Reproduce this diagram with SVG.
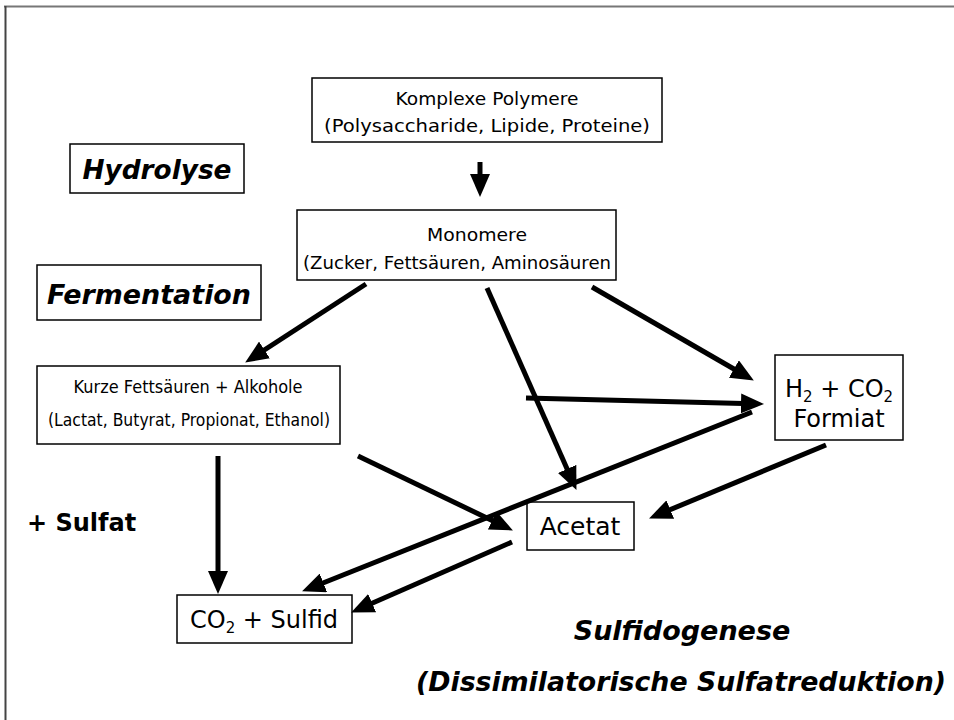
<svg xmlns="http://www.w3.org/2000/svg" width="954" height="720" viewBox="0 0 954 720">
<style>
.box{fill:#fff;stroke:#000;stroke-width:1.5}
.t{font-family:"DejaVu Sans","Liberation Sans",sans-serif;text-anchor:middle;fill:#000}
.b{font-family:"DejaVu Sans","Liberation Sans",sans-serif;font-weight:bold;font-style:italic;text-anchor:middle;fill:#000}
.c line{stroke:#000;stroke-width:5;marker-end:url(#ah)}
</style>
<defs>
<marker id="ah" markerUnits="userSpaceOnUse" markerWidth="23" markerHeight="20" refX="12" refY="10" orient="auto" viewBox="0 0 23 20">
<path d="M0,0 L23,10 L0,20 z" fill="#000"/>
</marker>
</defs>
<rect width="954" height="720" fill="#fff"/>
<line x1="4" y1="6.5" x2="954" y2="6.5" stroke="#777" stroke-width="2"/>
<line x1="5.5" y1="6" x2="5.5" y2="720" stroke="#444" stroke-width="2"/>

<g id="polymere"><rect class="box" x="312" y="78" width="350" height="64"/>
<text class="t" x="487" y="105" font-size="18" textLength="183" lengthAdjust="spacingAndGlyphs">Komplexe Polymere</text>
<text class="t" x="487" y="132" font-size="18" textLength="326" lengthAdjust="spacingAndGlyphs">(Polysaccharide, Lipide, Proteine)</text></g>

<g id="hydrolyse"><rect class="box" x="70" y="144" width="174" height="49"/>
<text class="b" x="157" y="179" font-size="26" textLength="149" lengthAdjust="spacingAndGlyphs">Hydrolyse</text></g>

<g id="monomere"><rect class="box" x="297" y="210" width="319" height="70"/>
<text class="t" x="477" y="241" font-size="18" textLength="100" lengthAdjust="spacingAndGlyphs">Monomere</text>
<text class="t" x="457" y="269" font-size="18" textLength="308" lengthAdjust="spacingAndGlyphs">(Zucker, Fettsäuren, Aminosäuren</text></g>

<g id="fermentation"><rect class="box" x="37" y="265" width="224" height="55"/>
<text class="b" x="149" y="304" font-size="27" textLength="204" lengthAdjust="spacingAndGlyphs">Fermentation</text></g>

<g id="kurze"><rect class="box" x="37" y="366" width="303" height="78"/>
<text class="t" x="188" y="393" font-size="18" textLength="229" lengthAdjust="spacingAndGlyphs">Kurze Fettsäuren + Alkohole</text>
<text class="t" x="189" y="426" font-size="18" textLength="282" lengthAdjust="spacingAndGlyphs">(Lactat, Butyrat, Propionat, Ethanol)</text></g>

<g id="h2"><rect class="box" x="775" y="355" width="128" height="85"/>
<text class="t" x="839" y="397" font-size="24">H<tspan font-size="15" dy="5">2</tspan><tspan dy="-5"> + CO</tspan><tspan font-size="15" dy="5">2</tspan></text>
<text class="t" x="839" y="427" font-size="24">Formiat</text></g>

<g id="acetat"><rect class="box" x="527" y="502" width="107" height="48"/>
<text class="t" x="580" y="535" font-size="25">Acetat</text></g>

<g id="sulfid"><rect class="box" x="177" y="595" width="175" height="48"/>
<text class="t" x="264" y="628" font-size="24">CO<tspan font-size="15" dy="5">2</tspan><tspan dy="-5"> + Sulfid</tspan></text></g>

<g id="sulfat"><text x="27" y="531" font-family="DejaVu Sans, Liberation Sans, sans-serif" font-weight="bold" font-size="24">+ Sulfat</text></g>

<g id="sulfidogenese">
<text class="b" x="682" y="640" font-size="27">Sulfidogenese</text>
<text class="b" x="681" y="691" font-size="27" textLength="530" lengthAdjust="spacingAndGlyphs">(Dissimilatorische Sulfatreduktion)</text></g>

<g id="connectors" class="c">
<line x1="480" y1="162" x2="480" y2="186"/>
<line x1="366" y1="284" x2="254.4" y2="356.5"/>
<line x1="487" y1="288" x2="572" y2="479.9"/>
<line x1="592" y1="287" x2="744.3" y2="375"/>
<line x1="526" y1="398" x2="753" y2="403.7"/>
<line x1="218" y1="456" x2="218" y2="583"/>
<line x1="358" y1="456" x2="503" y2="525.7"/>
<line x1="752" y1="412" x2="312.3" y2="587.3"/>
<line x1="826" y1="445" x2="659.2" y2="514.2"/>
<line x1="512" y1="542" x2="361.2" y2="608"/>
</g>
</svg>
